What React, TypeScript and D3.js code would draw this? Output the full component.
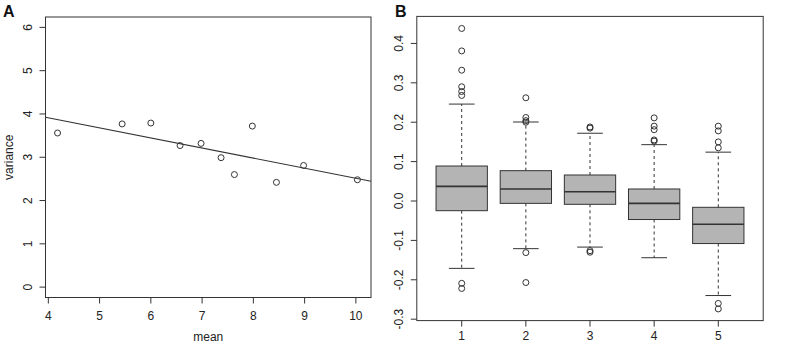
import React from 'react';
import * as d3 from 'd3';

// panel A: mean vs variance
const meanVals = [4.18, 5.44, 6.0, 6.57, 6.98, 7.37, 7.63, 7.98, 8.45, 8.98, 10.03];
const varianceVals = [3.56, 3.77, 3.79, 3.27, 3.32, 2.99, 2.6, 3.72, 2.42, 2.81, 2.48];
const xTicksA = [4, 5, 6, 7, 8, 9, 10];
const yTicksA = [0, 1, 2, 3, 4, 5, 6];

// panel B: box statistics per group
const groups = [1, 2, 3, 4, 5];
const whiskerLow = [-0.171, -0.121, -0.117, -0.144, -0.24];
const q1 = [-0.0246, -0.006, -0.0084, -0.047, -0.108];
const medians = [0.037, 0.0305, 0.0236, -0.006, -0.059];
const q3 = [0.0888, 0.077, 0.066, 0.0305, -0.016];
const whiskerHigh = [0.246, 0.2005, 0.172, 0.143, 0.124];
const outliers = [
  [0.438, 0.381, 0.332, 0.29, 0.278, 0.268, -0.209, -0.222],
  [0.262, 0.212, 0.204, 0.2, -0.131, -0.207],
  [0.188, 0.185, -0.126, -0.13],
  [0.211, 0.19, 0.181, 0.155, 0.152],
  [0.19, 0.178, 0.15, 0.135, -0.26, -0.274],
];
const yTicksB = [-0.3, -0.2, -0.1, 0, 0.1, 0.2, 0.3, 0.4];

const ink = '#333';
const font = "'Liberation Sans', Arial, Helvetica, sans-serif";

export default function App() {
  // panel A scales (R style 4% padding)
  const xA = d3.scaleLinear().domain([3.945, 10.295]).range([45.5, 371]);
  const yA = d3.scaleLinear().domain([-0.24, 6.24]).range([297.5, 17]);

  // least squares fit line
  const mx = d3.mean(meanVals)!;
  const my = d3.mean(varianceVals)!;
  let sxy = 0;
  let sxx = 0;
  meanVals.forEach((x, i) => {
    sxy += (x - mx) * (varianceVals[i] - my);
    sxx += (x - mx) * (x - mx);
  });
  const slope = sxy / sxx;
  const icept = my - slope * mx;
  const [x0, x1] = xA.domain();

  // panel B scales
  const xB = d3.scaleLinear().domain([0.3, 5.7]).range([416.8, 763.2]);
  const yB = d3.scaleLinear().domain([-0.3036, 0.4686]).range([320.6, 16.4]);
  const boxW = xB(1.8) - xB(1);
  const capW = boxW / 2;

  const fmt = (v: number) => (v === 0 ? '0.0' : d3.format('.1f')(v).replace('\u2212', '-'));

  return (
    <svg width={788} height={344} style={{ position: 'absolute', left: 0, top: 0 }} fontFamily={font}>
      <rect width={788} height={344} fill="#fff" />

      {/* ---- Panel A ---- */}
      <text x={3} y={17} fontSize={16} fontWeight="bold" fill="#111">A</text>
      <rect x={xA.range()[0]} y={yA.range()[1]} width={xA.range()[1] - xA.range()[0]}
        height={yA.range()[0] - yA.range()[1]} fill="none" stroke={ink} strokeWidth={1} />
      {xTicksA.map((t) => (
        <g key={'xa' + t}>
          <line x1={xA(t)} x2={xA(t)} y1={yA.range()[0]} y2={yA.range()[0] + 6} stroke={ink} />
          <text x={xA(t)} y={316} fontSize={12} textAnchor="middle" dominantBaseline="central" fill="#222">{t}</text>
        </g>
      ))}
      {yTicksA.map((t) => (
        <g key={'ya' + t}>
          <line x1={xA.range()[0] - 6} x2={xA.range()[0]} y1={yA(t)} y2={yA(t)} stroke={ink} />
          <text transform={`translate(28,${yA(t)}) rotate(-90)`} fontSize={12} textAnchor="middle"
            dominantBaseline="central" fill="#222">{t}</text>
        </g>
      ))}
      <text x={(xA.range()[0] + xA.range()[1]) / 2} y={337} fontSize={12} textAnchor="middle"
        dominantBaseline="central" fill="#222">mean</text>
      <text transform={`translate(9,${(yA.range()[0] + yA.range()[1]) / 2}) rotate(-90)`} fontSize={12}
        textAnchor="middle" dominantBaseline="central" fill="#222">variance</text>
      <line x1={xA(x0)} x2={xA(x1)} y1={yA(icept + slope * x0)} y2={yA(icept + slope * x1)}
        stroke={ink} strokeWidth={1.1} />
      {meanVals.map((m, i) => (
        <circle key={'p' + i} cx={xA(m)} cy={yA(varianceVals[i])} r={3} fill="none" stroke={ink} strokeWidth={1} />
      ))}

      {/* ---- Panel B ---- */}
      <text x={395} y={17} fontSize={16} fontWeight="bold" fill="#111">B</text>
      <rect x={xB.range()[0]} y={yB.range()[1]} width={xB.range()[1] - xB.range()[0]}
        height={yB.range()[0] - yB.range()[1]} fill="none" stroke={ink} strokeWidth={1} />
      {groups.map((g) => (
        <g key={'xb' + g}>
          <line x1={xB(g)} x2={xB(g)} y1={yB.range()[0]} y2={yB.range()[0] + 6} stroke={ink} />
          <text x={xB(g)} y={336} fontSize={12} textAnchor="middle" dominantBaseline="central" fill="#222">{g}</text>
        </g>
      ))}
      {yTicksB.map((t) => (
        <g key={'yb' + t}>
          <line x1={xB.range()[0] - 6} x2={xB.range()[0]} y1={yB(t)} y2={yB(t)} stroke={ink} />
          <text transform={`translate(399,${yB(t)}) rotate(-90)`} fontSize={12} textAnchor="middle"
            dominantBaseline="central" fill="#222">{fmt(t)}</text>
        </g>
      ))}
      {groups.map((g, i) => {
        const cx = xB(g);
        return (
          <g key={'box' + g}>
            <line x1={cx} x2={cx} y1={yB(q3[i])} y2={yB(whiskerHigh[i])} stroke={ink} strokeDasharray="3,3" />
            <line x1={cx} x2={cx} y1={yB(q1[i])} y2={yB(whiskerLow[i])} stroke={ink} strokeDasharray="3,3" />
            <line x1={cx - capW / 2} x2={cx + capW / 2} y1={yB(whiskerHigh[i])} y2={yB(whiskerHigh[i])} stroke={ink} />
            <line x1={cx - capW / 2} x2={cx + capW / 2} y1={yB(whiskerLow[i])} y2={yB(whiskerLow[i])} stroke={ink} />
            <rect x={cx - boxW / 2} y={yB(q3[i])} width={boxW} height={yB(q1[i]) - yB(q3[i])}
              fill="#b4b4b4" stroke={ink} strokeWidth={1} />
            <line x1={cx - boxW / 2} x2={cx + boxW / 2} y1={yB(medians[i])} y2={yB(medians[i])}
              stroke={ink} strokeWidth={1.6} />
            {outliers[i].map((o, j) => (
              <circle key={j} cx={cx} cy={yB(o)} r={3} fill="none" stroke={ink} strokeWidth={1} />
            ))}
          </g>
        );
      })}
    </svg>
  );
}
